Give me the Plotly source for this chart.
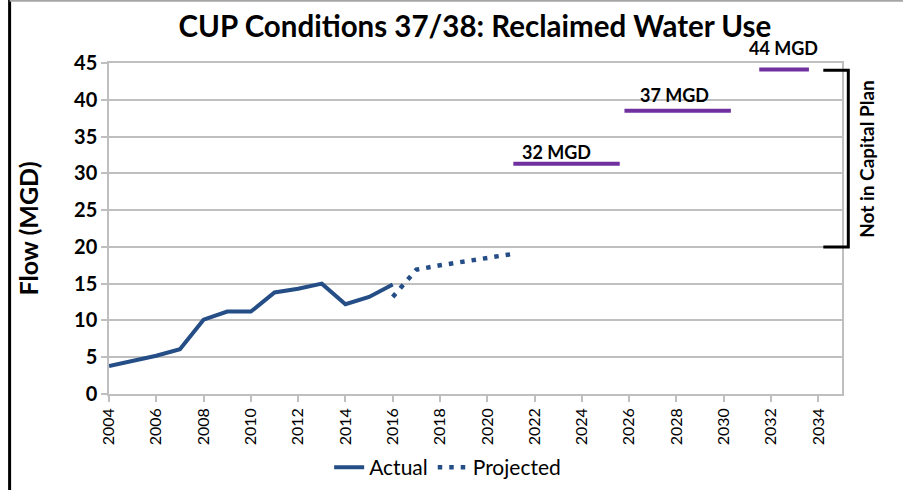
import plotly.graph_objects as go

# data
actual_years = [2004, 2005, 2006, 2007, 2008, 2009, 2010, 2011, 2012, 2013, 2014, 2015, 2016]
actual_flow = [3.8, 4.5, 5.2, 6.1, 10.1, 11.2, 11.2, 13.8, 14.3, 15.0, 12.2, 13.2, 14.9]

projected_years = [2016, 2017, 2018, 2019, 2020, 2021]
projected_flow = [13.2, 16.9, 17.5, 18.0, 18.5, 19.0]

phase_labels = ['32 MGD', '37 MGD', '44 MGD']
phase_flow = [31.3, 38.5, 44.1]
phase_start = [2021.1, 2025.8, 2031.5]
phase_end = [2025.6, 2030.3, 2033.6]

bracket_low, bracket_high = 20, 44
x_ticks = list(range(2004, 2035, 2))
y_ticks = list(range(0, 46, 5))

BLUE = '#254E86'
PURPLE = '#7030A0'
GRID = '#BFBFBF'
FONT = 'Lato'

fig = go.Figure()

fig.add_trace(go.Scatter(
    x=actual_years, y=actual_flow, name='Actual', mode='lines',
    line={'color': BLUE, 'width': 4}
))
fig.add_trace(go.Scatter(
    x=projected_years, y=projected_flow, name='Projected', mode='lines',
    line={'color': BLUE, 'width': 4.5, 'dash': '4.5px,7px'}
))

label_shift = [12, 16, 22]
label_dx = [-10, -3, -1]
for lab, yv, x0, x1, dy, dx in zip(phase_labels, phase_flow, phase_start, phase_end, label_shift, label_dx):
    fig.add_trace(go.Scatter(
        x=[x0, x1], y=[yv, yv], mode='lines', showlegend=False,
        line={'color': PURPLE, 'width': 4}, hoverinfo='skip'
    ))
    fig.add_annotation(
        x=(x0 + x1) / 2, y=yv, text=f'<b>{lab}</b>', showarrow=False,
        yshift=dy, xshift=dx, font={'size': 18, 'color': '#000000', 'family': FONT}
    )

# bracket for "Not in Capital Plan"
fig.add_shape(
    type='path', xref='paper', yref='y',
    path=f'M 0.9745 {bracket_high} L 1.0086 {bracket_high} L 1.0086 {bracket_low} L 0.9745 {bracket_low}',
    line={'color': '#000000', 'width': 3}
)
fig.add_annotation(
    x=1.033, xref='paper', xanchor='center', y=(bracket_low + bracket_high) / 2, yref='y',
    text='<b>Not in Capital Plan</b>', textangle=-90, showarrow=False,
    font={'size': 19, 'color': '#000000', 'family': FONT}
)

# picture frame lines
fig.add_shape(type='line', xref='paper', yref='paper', x0=-0.1356, x1=-0.1356, y0=-0.5, y1=1.5,
              line={'color': '#000000', 'width': 3})
fig.add_shape(type='line', xref='paper', yref='paper', x0=-0.1356, x1=1.2, y0=1.188, y1=1.188,
              line={'color': '#A6A6A6', 'width': 2})

fig.update_xaxes(
    range=[2004, 2035], tickvals=x_ticks, ticktext=[str(v) for v in x_ticks],
    tickangle=-90, ticks='outside', ticklen=6, tickcolor=GRID, tickwidth=1.5,
    showline=True, linecolor=GRID, linewidth=1.5, mirror=True, showgrid=False, zeroline=False,
    automargin=False, tickfont={'size': 16, 'color': '#000000', 'family': FONT}
)
fig.update_yaxes(
    range=[0, 45], tickvals=y_ticks, ticktext=[f'<b>{v}</b>' for v in y_ticks],
    ticks='outside', ticklen=6, tickcolor=GRID, tickwidth=1.5,
    showline=True, linecolor=GRID, linewidth=1.5, mirror=True,
    showgrid=True, gridcolor=GRID, gridwidth=1.5, zeroline=False, automargin=False,
    title={'text': '<b>Flow (MGD)</b>', 'font': {'size': 25, 'color': '#000000', 'family': FONT}, 'standoff': 28},
    tickfont={'size': 20, 'color': '#000000', 'family': FONT}
)

fig.update_layout(
    width=903, height=490,
    title={'text': '<b>CUP Conditions 37/38: Reclaimed Water Use</b>', 'x': 0.526, 'xanchor': 'center',
           'y': 0.945, 'yanchor': 'middle', 'font': {'size': 29.5, 'color': '#000000', 'family': FONT}},
    plot_bgcolor='white', paper_bgcolor='white',
    margin={'l': 109, 'r': 61, 't': 63, 'b': 96, 'autoexpand': False},
    showlegend=True,
    legend={'orientation': 'h', 'x': 0.462, 'xanchor': 'center', 'y': -0.222, 'yanchor': 'middle',
            'font': {'size': 21, 'color': '#000000', 'family': FONT}},
    font={'family': FONT, 'color': '#000000'}
)

fig.write_html('out.html', config={'displayModeBar': False},
               post_script="document.body.style.margin = '0';")
